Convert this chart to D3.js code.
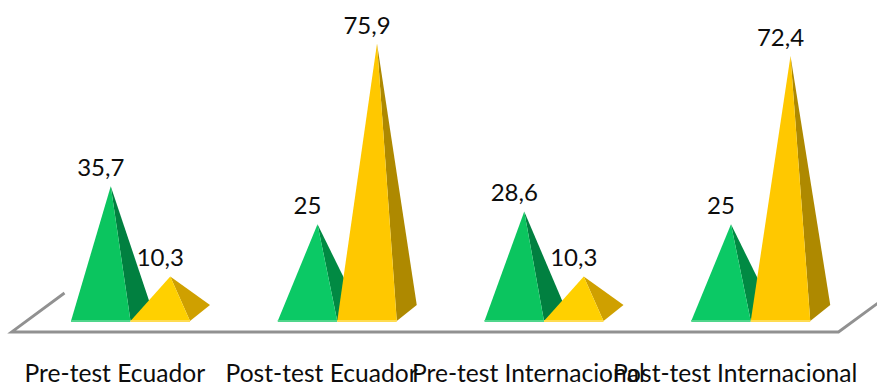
<!DOCTYPE html>
<html>
<head>
<meta charset="utf-8">
<script src="https://cdn.jsdelivr.net/npm/d3@7/dist/d3.min.js"></script>
<style>
  html, body { margin: 0; padding: 0; background: #fff; }
  svg { display: block; }
  text { font-family: Lato, "Open Sans", sans-serif; fill: #0d0d0d; }
</style>
</head>
<body>
<div id="chart"></div>
<script>
const categories = ["Pre-test Ecuador", "Post-test Ecuador", "Pre-test Internacional", "Post-test Internacional"];
const seriesGreen = [35.7, 25, 28.6, 25];
const seriesYellow = [10.3, 75.9, 10.3, 72.4];
const valueLabels = [["35,7", "10,3"], ["25", "75,9"], ["28,6", "10,3"], ["25", "72,4"]];
const seriesNames = ["green", "yellow"];
// Face shades per category: the side faces catch the light differently with their slope
const greenFront = ["#0bc55f", "#0bc965", "#0bc55f", "#0bc965"];
const greenSide = ["#018040", "#018a43", "#018040", "#018a43"];
const yellowFront = ["#ffd000", "#ffc800", "#ffd000", "#ffc800"];
const yellowSide = ["#cfa000", "#ae8900", "#cfa000", "#ae8900"];
const rimColors = { green: "#4fd68b", yellow: "#ffdc50" };

const width = 877, height = 385;
const baseY = 321;              // front edge of the pyramids
const depthX = 20, depthY = 16; // oblique offset of the back edge
const floorDepthX = 53, floorDepthY = 39;

const svg = d3.select("#chart").append("svg")
  .attr("width", width).attr("height", height);

const x = d3.scaleBand().domain(d3.range(categories.length)).range([11.5, 838.5]).padding(0);
const inner = d3.scaleBand().domain(seriesNames).range([59.5, 178.5]);
const y = d3.scaleLinear().domain([0, 80]).range([baseY - depthY / 2, baseY - depthY / 2 - 284]);

// Floor of the 3D plot
const floorY = 332;
svg.append("path")
  .attr("d", d3.line()([
    [x.range()[0] + floorDepthX, floorY - floorDepthY],
    [x.range()[0], floorY],
    [x.range()[1], floorY],
    [x.range()[1] + floorDepthX, floorY - floorDepthY]
  ]))
  .attr("fill", "none").attr("stroke", "#919191").attr("stroke-width", 2.8);

// Pyramids: green series first so the yellow one overlaps it
const marks = [];
seriesNames.forEach((name, s) => {
  const values = s === 0 ? seriesGreen : seriesYellow;
  values.forEach((v, i) => marks.push({ name, s, i, v, label: valueLabels[i][s] }));
});

const poly = d3.line();
marks.forEach(d => {
  const x0 = x(d.i) + inner(d.name);
  const x1 = x0 + inner.bandwidth();
  const cx = (x0 + x1) / 2;
  const apex = [cx + depthX / 2, y(d.v)];
  const g = svg.append("g").attr("class", "pyramid");
  g.append("path")
    .attr("d", poly([[x1, baseY], [x1 + depthX, baseY - depthY], apex]) + "Z")
    .attr("fill", (d.s === 0 ? greenSide : yellowSide)[d.i]);
  g.append("path")
    .attr("d", poly([[x0, baseY], [x1, baseY], apex]) + "Z")
    .attr("fill", (d.s === 0 ? greenFront : yellowFront)[d.i]);
  g.append("rect")
    .attr("x", x0).attr("y", baseY - 1)
    .attr("width", x1 - x0).attr("height", 2)
    .attr("fill", rimColors[d.name]);
});

// Value labels sit above each apex, centred on the front face
svg.selectAll("text.value").data(marks).join("text")
  .attr("class", "value")
  .attr("x", d => x(d.i) + inner(d.name) + inner.bandwidth() / 2)
  .attr("y", d => y(d.v) - 10)
  .attr("text-anchor", "middle")
  .attr("font-size", 24)
  .text(d => d.label);

// Category labels
svg.selectAll("text.cat").data(categories).join("text")
  .attr("class", "cat")
  .attr("x", (d, i) => x(i) + x.bandwidth() / 2)
  .attr("y", 382)
  .attr("text-anchor", "middle")
  .attr("font-size", 24.6)
  .text(d => d);
</script>
</body>
</html>
